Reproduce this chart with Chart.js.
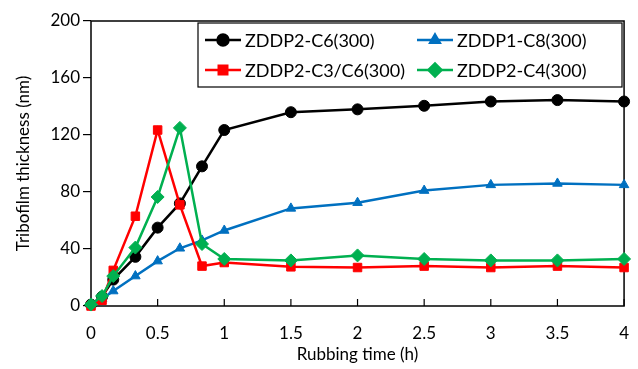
<!DOCTYPE html>
<html>
<head>
<meta charset="utf-8">
<script src="https://cdn.jsdelivr.net/npm/chart.js@4.4.0/dist/chart.umd.min.js"></script>
<style>
  html, body { margin: 0; padding: 0; background: #fff; }
  #wrap { width: 638px; height: 369px; }
</style>
</head>
<body>
<div id="wrap"><canvas id="chart" width="638" height="369"></canvas></div>
<script>
// rubbing time (h)
const tiempos = [0, 0.083, 0.167, 0.333, 0.5, 0.667, 0.833, 1, 1.5, 2, 2.5, 3, 3.5, 4]
const serieC6 = [1, 6.5, 18.5, 34.5, 55, 72, 98, 123.5, 136, 138, 140.5, 143.5, 144.5, 143.5]
const serieC8 = [1, 5, 10.5, 21, 31.5, 40.5, 46, 53, 68.5, 72.5, 81, 85, 86, 85]
const serieC3C6 = [0, 4, 25, 63, 123.5, 71, 28, 30.5, 27.5, 27, 28, 27, 28, 27]
const serieC4 = [1, 7, 21, 41, 76.5, 125, 43.5, 33, 32, 35.5, 33, 32, 32, 33]
const nombres = ['ZDDP2-C6(300)', 'ZDDP1-C8(300)', 'ZDDP2-C3/C6(300)', 'ZDDP2-C4(300)']
const xTicks = [0, 0.5, 1, 1.5, 2, 2.5, 3, 3.5, 4]
const yTicks = [0, 40, 80, 120, 160, 200]

const FUENTE = 'Lato, "Open Sans", sans-serif'
const puntos = vals => vals.map((v, i) => ({ x: tiempos[i], y: v }))

function serie(label, vals, color, estilo, radio, orden) {
  return {
    label, data: puntos(vals), borderColor: color, backgroundColor: color,
    borderWidth: 2.5, pointStyle: estilo, pointRadius: radio, pointBorderWidth: 1,
    tension: 0, clip: false, order: orden
  }
}

const datasets = [
  serie(nombres[0], serieC6, '#000000', 'circle', 5.5, 3),
  serie(nombres[1], serieC8, '#0070C0', 'triangle', 5.5, 2),
  serie(nombres[2], serieC3C6, '#FF0000', 'rect', 6, 1),
  serie(nombres[3], serieC4, '#00B050', 'rectRot', 6.5, 0)
]

const marco = {
  id: 'marco',
  beforeDatasetsDraw(chart) {
    const { ctx, chartArea: a, scales } = chart
    ctx.save()
    ctx.strokeStyle = '#000'
    ctx.lineWidth = 1.5
    ctx.strokeRect(a.left, a.top, a.right - a.left, a.bottom - a.top)
    // x ticks point inward
    ctx.lineWidth = 1.2
    xTicks.forEach(t => {
      const px = scales.x.getPixelForValue(t)
      ctx.beginPath(); ctx.moveTo(px, a.bottom); ctx.lineTo(px, a.bottom - 7); ctx.stroke()
    })
    ctx.restore()
  },
  afterDraw(chart) {
    const { ctx } = chart
    ctx.save()
    ctx.fillStyle = '#fff'
    ctx.fillRect(198, 23, 424, 64)
    ctx.strokeStyle = '#000'
    ctx.lineWidth = 1.2
    ctx.strokeRect(198, 23, 424, 64)
    const pos = [[205, 40], [417, 40], [205, 70], [417, 70]]
    ctx.font = '18px ' + FUENTE
    ctx.textBaseline = 'middle'
    datasets.forEach((d, i) => {
      const [x, y] = pos[i]
      ctx.strokeStyle = d.borderColor
      ctx.lineWidth = 2.5
      ctx.beginPath(); ctx.moveTo(x, y); ctx.lineTo(x + 36, y); ctx.stroke()
      Chart.helpers.drawPoint(ctx, { pointStyle: d.pointStyle, radius: d.pointRadius, rotation: 0, borderWidth: 1 }, x + 18, y)
      ctx.fillStyle = d.borderColor
      ctx.fill()
      ctx.fillStyle = '#000'
      ctx.fillText(d.label, x + 40, y + 1)
    })
    ctx.restore()
  }
}

new Chart(document.getElementById('chart'), {
  type: 'line',
  data: { datasets },
  options: {
    responsive: false,
    animation: false,
    layout: { padding: { left: 0, right: 11, top: 21, bottom: 0 } },
    plugins: { legend: { display: false }, tooltip: { enabled: false } },
    scales: {
      x: {
        type: 'linear', min: 0, max: 4,
        afterBuildTicks: s => { s.ticks = xTicks.map(v => ({ value: v })) },
        afterFit: s => { s.height = 63 },
        grid: { display: false },
        border: { display: false },
        ticks: { color: '#000', font: { family: FUENTE, size: 17 }, padding: 9, maxRotation: 0, callback: v => String(v) },
        title: { display: true, text: 'Rubbing time (h)', color: '#000', font: { family: FUENTE, size: 17 }, padding: { top: 0 } }
      },
      y: {
        min: 0, max: 200,
        afterBuildTicks: s => { s.ticks = yTicks.map(v => ({ value: v })) },
        afterFit: s => { s.width = 91 },
        grid: { drawOnChartArea: false, drawTicks: true, tickLength: 8, color: '#000', lineWidth: 1.2 },
        border: { display: false },
        ticks: { color: '#000', font: { family: FUENTE, size: 17 }, padding: 3 },
        title: { display: true, text: 'Tribofilm thickness (nm)', color: '#000', font: { family: FUENTE, size: 17 }, padding: { top: 13, bottom: 0 } }
      }
    }
  },
  plugins: [marco]
})
</script>
</body>
</html>
